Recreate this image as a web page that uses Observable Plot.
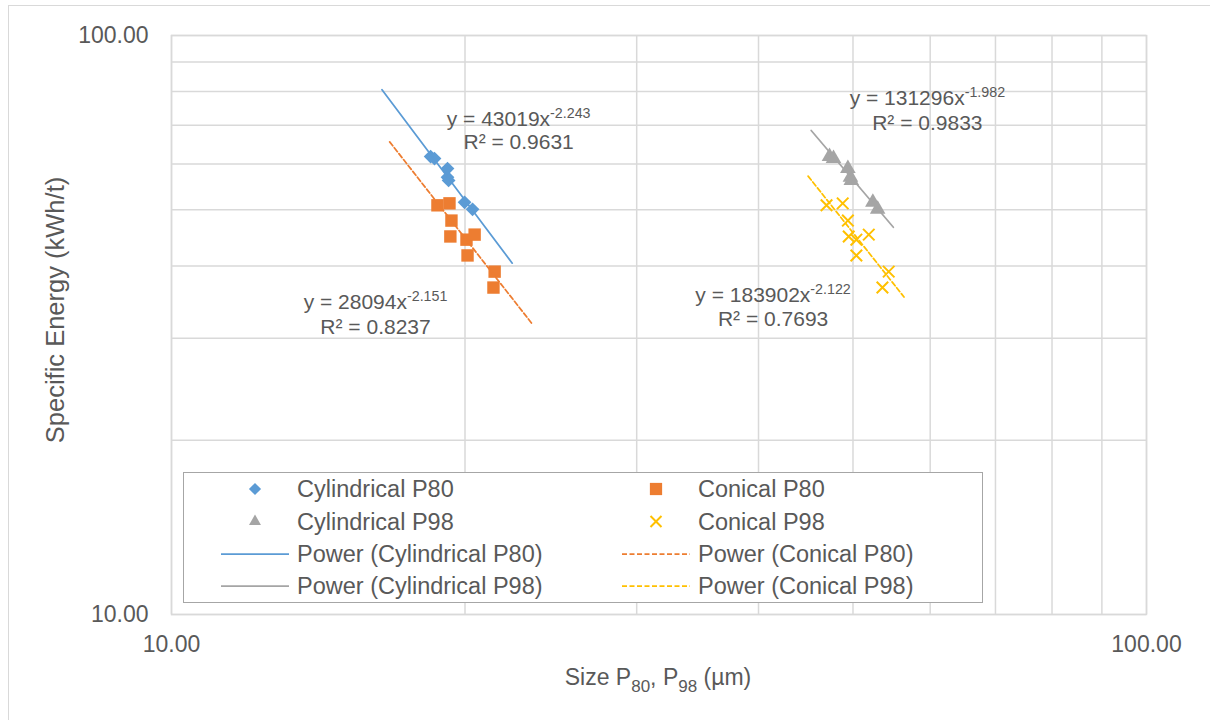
<!DOCTYPE html>
<html><head><meta charset="utf-8">
<script src="https://cdn.jsdelivr.net/npm/d3@7"></script>
<script src="https://cdn.jsdelivr.net/npm/@observablehq/plot@0.6"></script>
<style>
html,body{margin:0;padding:0;background:#fff;overflow:hidden;}
#wrap{position:relative;width:1210px;height:720px;font-family:"Liberation Sans",Arial,sans-serif;color:#595959;overflow:hidden;}
#border{position:absolute;left:8px;top:5px;width:1400px;height:900px;border:1.5px solid #d9d9d9;box-sizing:border-box;}
#chart{position:absolute;left:0;top:0;}
.ttl{position:absolute;white-space:nowrap;font-size:23px;line-height:1;color:#595959;}
.ttl sub{font-size:17px;vertical-align:-7px;line-height:0;}
#legend{position:absolute;left:183px;top:472px;width:800px;height:131px;background:#fff;border:1.5px solid #a6a6a6;box-sizing:border-box;}
</style></head>
<body>
<div id="wrap">
  <div id="border"></div>
  <div id="chart"></div>
  <div class="ttl" id="ytitle" style="left:56px;top:310px;font-size:25.5px;transform:translate(-50%,-50%) rotate(-90deg);">Specific Energy (kWh/t)</div>
  <div class="ttl" id="xtitle" style="left:658px;top:677px;transform:translate(-50%,-50%);">Size P<sub>80</sub>, P<sub>98</sub> (µm)</div>
  <div id="legend"></div>
</div>
<script>
// ---- data ----
const seriesNames = ["Cylindrical P80", "Conical P80", "Cylindrical P98", "Conical P98"];
const cylEnergy = [61.8, 61.3, 58.9, 56.9, 56.2, 51.5, 50.1];
const cylP80    = [18.44, 18.61, 19.19, 19.19, 19.24, 19.98, 20.36];
const cylP98    = [47.3, 47.75, 49.4, 49.7, 49.8, 52.4, 53.0];
const conEnergy = [50.9, 51.3, 47.9, 44.97, 44.4, 45.3, 41.7, 39.1, 36.7];
const conP80    = [18.74, 19.28, 19.37, 19.32, 20.07, 20.46, 20.12, 21.45, 21.39];
const conP98    = [46.97, 48.8, 49.4, 49.5, 50.4, 51.9, 50.4, 54.4, 53.6];
const fitCoef = [43019, 28094, 131296, 183902];
const fitExp  = [-2.243, -2.151, -1.982, -2.122];
const fitR2   = ["0.9631", "0.8237", "0.9833", "0.7693"];
const forecast = 2; // trendline forward/backward forecast (x units)
const labelX  = [22.7, 16.19, 59.6, 41.4];
const labelY1 = [71.6, 34.6, 77.9, 35.6];
const labelY2 = [65.3, 31.4, 70.5, 32.4];
const axisTicks = [10, 100];
const gridVals = [10, 20, 30, 40, 50, 60, 70, 80, 90, 100];
const colors = ["#5b9bd5", "#ed7d31", "#a5a5a5", "#ffc000"];
const plotSymbols = ["diamond2", "square", "triangle", "times"];
const dotR = [6.2, 7.0, 5.8, 5.3];
const dashes = [null, "5,2.5", null, "5,2.5"];

const xs = [cylP80, conP80, cylP98, conP98];
const ys = [cylEnergy, conEnergy, cylEnergy, conEnergy];

const points = seriesNames.map((s, i) => xs[i].map((x, j) => ({series: s, x, y: ys[i][j]})));
const fits = seriesNames.map((s, i) => {
  const x0 = d3.min(xs[i]) - forecast, x1 = d3.max(xs[i]) + forecast;
  return [x0, x1].map(x => ({series: s, x, y: fitCoef[i] * Math.pow(x, fitExp[i])}));
});
const labels = seriesNames.map((s, i) => ({
  x: labelX[i], y1: labelY1[i], y2: labelY2[i],
  t1: `y = ${fitCoef[i]}x^${fitExp[i].toFixed(3)}`,
  t2: `R² = ${fitR2[i]}`
}));

const marks = [
  Plot.gridX(gridVals, {stroke: "#d9d9d9", strokeOpacity: 1, strokeWidth: 1.5}),
  Plot.gridY(gridVals, {stroke: "#d9d9d9", strokeOpacity: 1, strokeWidth: 1.5}),
  Plot.frame({stroke: "#d9d9d9", strokeWidth: 1.5}),
  Plot.axisX(axisTicks, {tickSize: 0, tickPadding: 21, tickFormat: d => d.toFixed(2), label: null, fontSize: 23, fill: "#595959"}),
  Plot.axisY(axisTicks, {tickSize: 0, tickPadding: 23, tickFormat: d => d.toFixed(2), label: null, fontSize: 23, fill: "#595959"})
];
seriesNames.forEach((s, i) => {
  const sym = plotSymbols[i];
  const opts = {x: "x", y: "y", r: dotR[i], symbol: sym};
  if (sym === "times") { opts.stroke = colors[i]; opts.strokeWidth = 2; opts.fill = "none"; }
  else { opts.fill = colors[i]; opts.stroke = "none"; }
  marks.push(Plot.dot(points[i], opts));
});
seriesNames.forEach((s, i) => {
  const o = {x: "x", y: "y", stroke: colors[i], strokeWidth: 1.75};
  if (dashes[i]) o.strokeDasharray = dashes[i];
  marks.push(Plot.line(fits[i], o));
});
marks.push(Plot.text(labels, {x: "x", y: "y1", text: "t1", fontSize: 21, fill: "#595959", textAnchor: "middle"}));
marks.push(Plot.text(labels, {x: "x", y: "y2", text: "t2", fontSize: 21, fill: "#595959", textAnchor: "middle"}));

const chart = Plot.plot({
  width: 1210, height: 720,
  marginLeft: 171, marginRight: 64, marginTop: 35, marginBottom: 106,
  style: {fontFamily: "'Liberation Sans', Arial, sans-serif", fontSize: "23px", color: "#595959", background: "transparent", overflow: "visible"},
  x: {type: "log", domain: [10, 100]},
  y: {type: "log", domain: [10, 100]},
  marks
});
// superscripts
d3.select(chart).selectAll("text").each(function () {
  const t = this.textContent;
  const k = t.indexOf("^");
  if (k < 0 || this.querySelector("tspan")) return;
  const el = d3.select(this);
  el.text(null);
  el.append("tspan").text(t.slice(0, k));
  el.append("tspan").attr("dy", "-0.55em").attr("font-size", "0.68em").text(t.slice(k + 1));
});
document.getElementById("chart").appendChild(chart);

// ---- legend ----
const legendLabels = ["Cylindrical P80", "Conical P80", "Cylindrical P98", "Conical P98",
  "Power (Cylindrical P80)", "Power (Conical P80)", "Power (Cylindrical P98)", "Power (Conical P98)"];
const legendSymbols = [d3.symbolDiamond2, d3.symbolSquare, d3.symbolTriangle, d3.symbolTimes];
const legendSymSize = [95, 150, 62, 81];
const lsvg = d3.select("#legend").append("svg").attr("width", 800).attr("height", 131)
  .style("position", "absolute").style("left", "-1.5px").style("top", "-1.5px")
  .style("font-family", "'Liberation Sans', Arial, sans-serif").style("font-size", "23.5px");
const rowY = [17, 49.5, 82, 114];
const colX = [0, 401];
legendLabels.forEach((lab, k) => {
  const row = Math.floor(k / 2), col = k % 2;
  const si = k < 4 ? k : k - 4;
  const g = lsvg.append("g").attr("transform", `translate(${colX[col]},${rowY[row]})`);
  if (k < 4) {
    const p = g.append("path").attr("transform", "translate(72,0)")
      .attr("d", d3.symbol(legendSymbols[si], legendSymSize[si])());
    if (si === 3) p.attr("fill", "none").attr("stroke", colors[si]).attr("stroke-width", 2);
    else p.attr("fill", colors[si]);
  } else {
    const l = g.append("line").attr("x1", 38).attr("x2", 106).attr("stroke", colors[si]).attr("stroke-width", 1.75);
    if (dashes[si]) l.attr("stroke-dasharray", dashes[si]);
  }
  g.append("text").attr("x", 114).attr("dy", "0.35em").attr("fill", "#595959").text(lab);
});
</script>
</body></html>
